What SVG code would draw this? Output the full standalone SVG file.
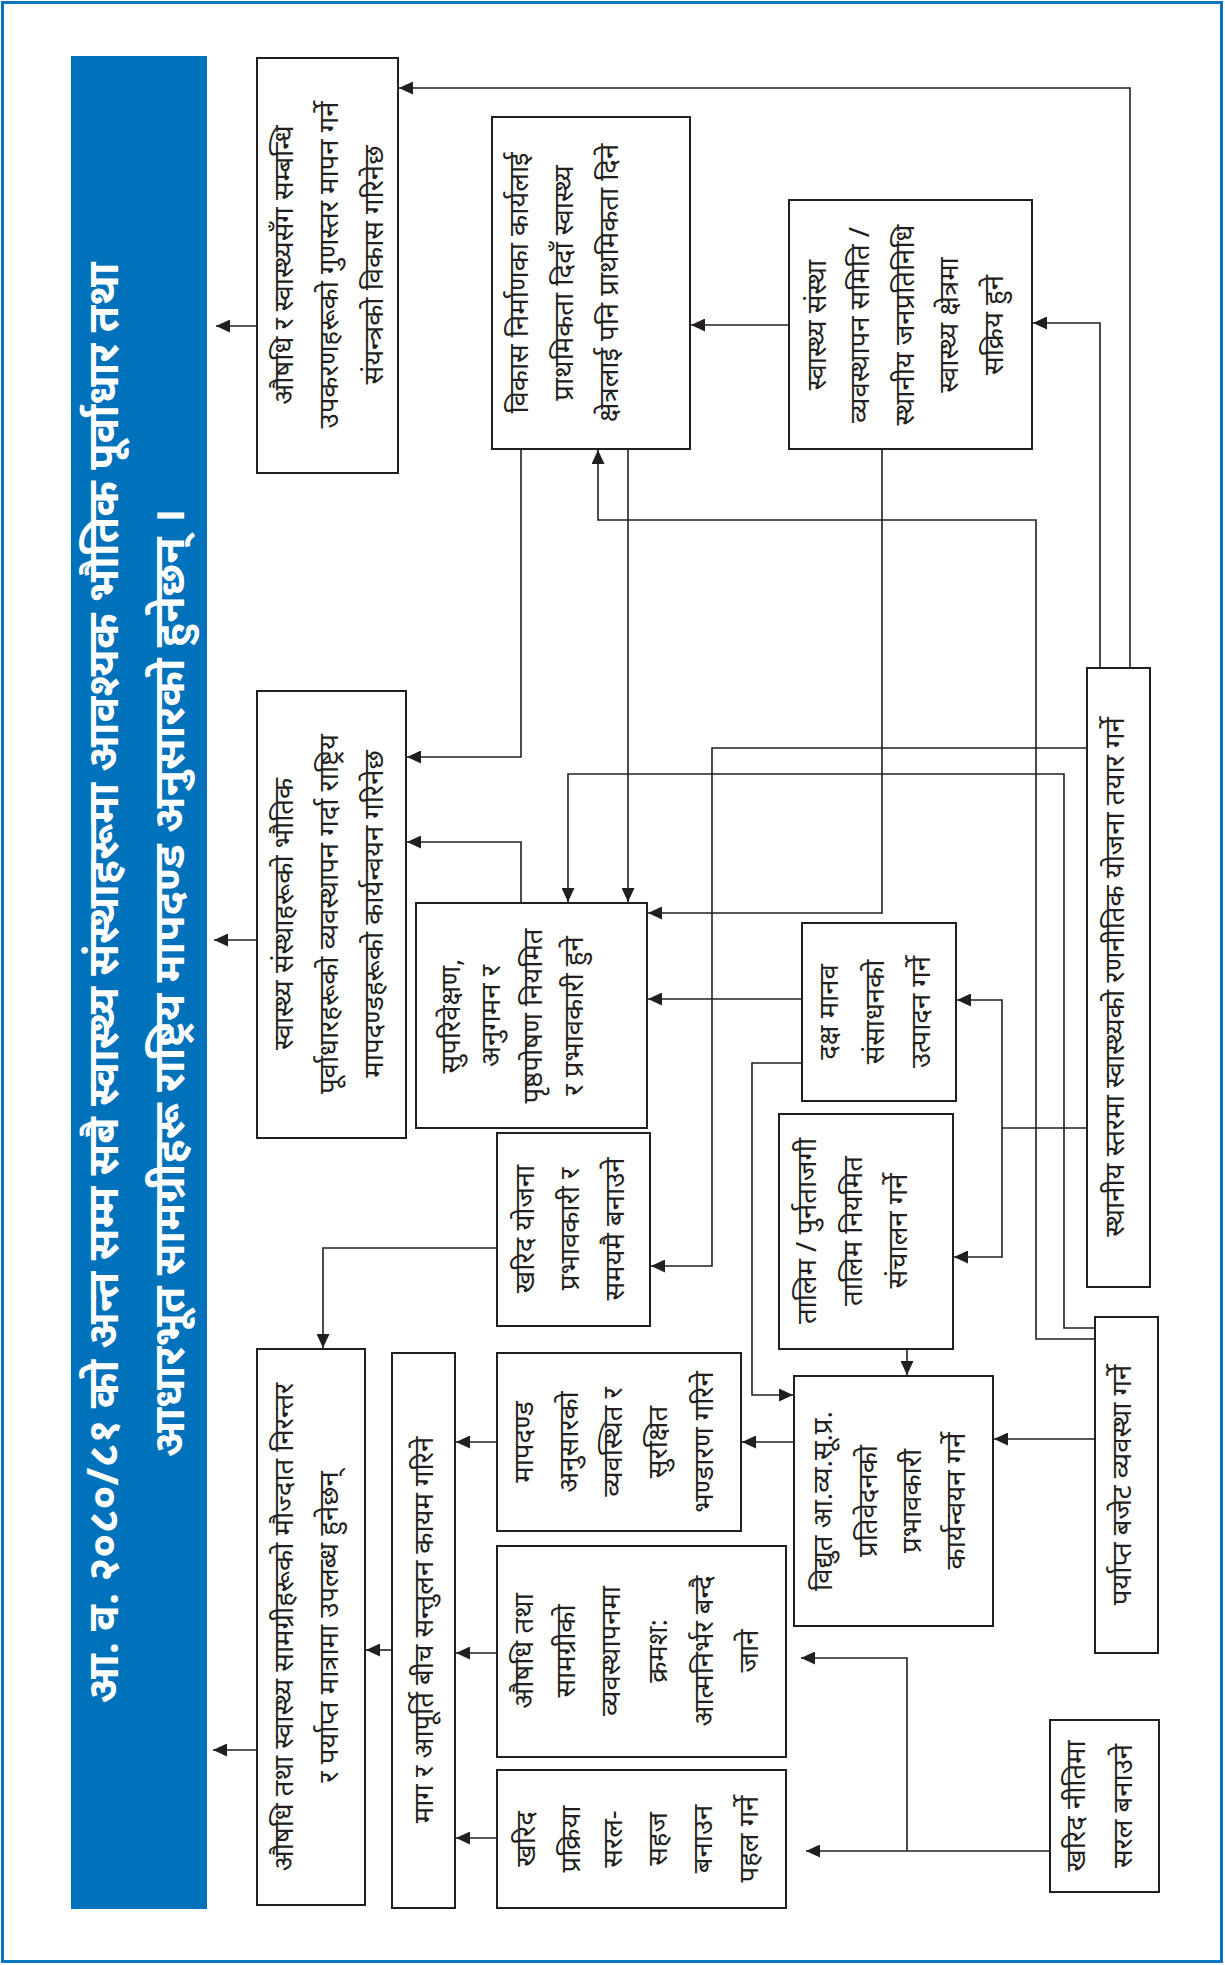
<svg xmlns="http://www.w3.org/2000/svg" width="1225" height="1965" viewBox="0 0 1225 1965">
  <style>
    .frame { fill: none; stroke: #0a74c0; stroke-width: 3; }
    .band { fill: #0072bc; }
    .box { fill: #ffffff; stroke: #231f20; stroke-width: 2; }
    .link { fill: none; stroke: #231f20; stroke-width: 1.6; }
    .t { font-family: "Noto Sans", sans-serif; font-size: 27.5px; fill: #231f20; text-anchor: middle; }
    .title { font-family: "Noto Sans", sans-serif; font-size: 43px; font-weight: bold; fill: #ffffff; text-anchor: middle; }
  </style>
  <defs>
    <marker id="arrow" viewBox="0 0 14 13" refX="14" refY="6.5" markerWidth="14" markerHeight="13" markerUnits="userSpaceOnUse" orient="auto">
      <path d="M0,0 L14,6.5 L0,13 z" fill="#231f20"/>
    </marker>
  </defs>

  <rect class="frame" x="2.5" y="2.5" width="1219" height="1959"/>

  <!-- title band, text runs bottom to top -->
  <g id="title">
    <rect class="band" x="71" y="56" width="136" height="1853"/>
    <g transform="translate(0 983) rotate(-90)">
      <text class="title" x="0" y="118">आ. व. २०८०/८१ को अन्त सम्म सबै स्वास्थ्य संस्थाहरूमा आवश्यक भौतिक पूर्वाधार तथा</text>
      <text class="title" x="0" y="184">आधारभूत सामग्रीहरू राष्ट्रिय मापदण्ड अनुसारको हुनेछन् ।</text>
    </g>
  </g>

  <!-- connectors -->
  <g id="connectors">
    <path class="link" marker-end="url(#arrow)" d="M257,326 H216"/>
    <path class="link" marker-end="url(#arrow)" d="M257,940 H214"/>
    <path class="link" marker-end="url(#arrow)" d="M257,1750 H213"/>
    <path class="link" marker-end="url(#arrow)" d="M1130,668 V88 H399"/>
    <path class="link" marker-end="url(#arrow)" d="M1100,668 V323 H1033"/>
    <path class="link" marker-end="url(#arrow)" d="M789,325 H691"/>
    <path class="link" marker-end="url(#arrow)" d="M521,449 V757 H407"/>
    <path class="link" marker-end="url(#arrow)" d="M1095,1339 H1036 V520 H598 V450"/>
    <path class="link" marker-end="url(#arrow)" d="M628,449 V902"/>
    <path class="link" marker-end="url(#arrow)" d="M882,449 V913 H648"/>
    <path class="link" marker-end="url(#arrow)" d="M1095,1328 H1064 V774 H568 V902"/>
    <path class="link" marker-end="url(#arrow)" d="M1087,748 H712 V1266 H651"/>
    <path class="link" marker-end="url(#arrow)" d="M521,903 V842 H407"/>
    <path class="link" marker-end="url(#arrow)" d="M802,999 H648"/>
    <path class="link" d="M1087,1128 H1002"/>
    <path class="link" marker-end="url(#arrow)" d="M1002,1128 V1000 H957"/>
    <path class="link" marker-end="url(#arrow)" d="M1002,1128 V1257 H954"/>
    <path class="link" marker-end="url(#arrow)" d="M802,1063 H752 V1395 H793"/>
    <path class="link" marker-end="url(#arrow)" d="M907,1349 V1375"/>
    <path class="link" marker-end="url(#arrow)" d="M1095,1439 H994"/>
    <path class="link" marker-end="url(#arrow)" d="M794,1442 H742"/>
    <path class="link" marker-end="url(#arrow)" d="M497,1442 H456"/>
    <path class="link" marker-end="url(#arrow)" d="M497,1248 H323 V1348"/>
    <path class="link" marker-end="url(#arrow)" d="M392,1650 H366"/>
    <path class="link" marker-end="url(#arrow)" d="M497,1653 H456"/>
    <path class="link" marker-end="url(#arrow)" d="M497,1838 H456"/>
    <path class="link" marker-end="url(#arrow)" d="M1050,1851 H806"/>
    <path class="link" marker-end="url(#arrow)" d="M907,1851 V1658 H801"/>
  </g>

  <!-- nodes -->
  <g id="equipment-standards">
    <rect class="box" x="257" y="58" width="141" height="415"/>
    <g transform="translate(0 265) rotate(-90)">
      <text class="t" x="0" y="293">औषधि र स्वास्थ्यसँग सम्बन्धि</text>
      <text class="t" x="0" y="338">उपकरणहरूको गुणस्तर मापन गर्ने</text>
      <text class="t" x="0" y="383">संयन्त्रको विकास गरिनेछ</text>
    </g>
  </g>

  <g id="development-priority">
    <rect class="box" x="492" y="117" width="198" height="332"/>
    <g transform="translate(0 283) rotate(-90)">
      <text class="t" x="0" y="528">विकास निर्माणका कार्यलाई</text>
      <text class="t" x="0" y="573">प्राथमिकता दिदाँ स्वास्थ्य</text>
      <text class="t" x="0" y="618">क्षेत्रलाई पनि प्राथमिकता दिने</text>
    </g>
  </g>

  <g id="committee-active">
    <rect class="box" x="789" y="200" width="243" height="249"/>
    <g transform="translate(0 325) rotate(-90)">
      <text class="t" x="0" y="826">स्वास्थ्य संस्था</text>
      <text class="t" x="0" y="869">व्यवस्थापन समिति /</text>
      <text class="t" x="0" y="914">स्थानीय जनप्रतिनिधि</text>
      <text class="t" x="0" y="958">स्वास्थ्य क्षेत्रमा</text>
      <text class="t" x="0" y="1003">सक्रिय हुने</text>
    </g>
  </g>

  <g id="infrastructure-standards">
    <rect class="box" x="257" y="691" width="149" height="447"/>
    <g transform="translate(0 914) rotate(-90)">
      <text class="t" x="0" y="293">स्वास्थ्य संस्थाहरूको भौतिक</text>
      <text class="t" x="0" y="338">पूर्वाधारहरूको व्यवस्थापन गर्दा राष्ट्रिय</text>
      <text class="t" x="0" y="383">मापदण्डहरूको कार्यन्वयन गरिनेछ</text>
    </g>
  </g>

  <g id="supervision">
    <rect class="box" x="416" y="903" width="231" height="225"/>
    <g transform="translate(0 1016) rotate(-90)">
      <text class="t" x="0" y="460">सुपरिवेक्षण,</text>
      <text class="t" x="0" y="500">अनुगमन र</text>
      <text class="t" x="0" y="542">पृष्ठपोषण नियमित</text>
      <text class="t" x="0" y="583">र प्रभावकारी हुने</text>
    </g>
  </g>

  <g id="human-resources">
    <rect class="box" x="802" y="923" width="154" height="178"/>
    <g transform="translate(0 1012) rotate(-90)">
      <text class="t" x="0" y="838">दक्ष मानव</text>
      <text class="t" x="0" y="884">संसाधनको</text>
      <text class="t" x="0" y="930">उत्पादन गर्ने</text>
    </g>
  </g>

  <g id="strategic-plan">
    <rect class="box" x="1087" y="668" width="63" height="619"/>
    <g transform="translate(0 977) rotate(-90)">
      <text class="t" x="0" y="1124">स्थानीय स्तरमा स्वास्थ्यको रणनीतिक योजना तयार गर्ने</text>
    </g>
  </g>

  <g id="procurement-plan">
    <rect class="box" x="497" y="1133" width="153" height="193"/>
    <g transform="translate(0 1229) rotate(-90)">
      <text class="t" x="0" y="534">खरिद योजना</text>
      <text class="t" x="0" y="579">प्रभावकारी र</text>
      <text class="t" x="0" y="624">समयमै बनाउने</text>
    </g>
  </g>

  <g id="training">
    <rect class="box" x="779" y="1114" width="174" height="235"/>
    <g transform="translate(0 1231) rotate(-90)">
      <text class="t" x="0" y="816">तालिम / पुर्नताजगी</text>
      <text class="t" x="0" y="862">तालिम नियमित</text>
      <text class="t" x="0" y="907">संचालन गर्ने</text>
    </g>
  </g>

  <g id="budget">
    <rect class="box" x="1095" y="1317" width="63" height="336"/>
    <g transform="translate(0 1485) rotate(-90)">
      <text class="t" x="0" y="1131">पर्याप्त बजेट व्यवस्था गर्ने</text>
    </g>
  </g>

  <g id="lmis-report">
    <rect class="box" x="794" y="1376" width="199" height="250"/>
    <g transform="translate(0 1501) rotate(-90)">
      <text class="t" x="0" y="832">विद्युत आ.व्य.सू.प्र.</text>
      <text class="t" x="0" y="877">प्रतिवेदनको</text>
      <text class="t" x="0" y="921">प्रभावकारी</text>
      <text class="t" x="0" y="965">कार्यन्वयन गर्ने</text>
    </g>
  </g>

  <g id="storage">
    <rect class="box" x="497" y="1353" width="244" height="178"/>
    <g transform="translate(0 1442) rotate(-90)">
      <text class="t" x="0" y="533">मापदण्ड</text>
      <text class="t" x="0" y="578">अनुसारको</text>
      <text class="t" x="0" y="622">व्यवस्थित र</text>
      <text class="t" x="0" y="667">सुरक्षित</text>
      <text class="t" x="0" y="713">भण्डारण गरिने</text>
    </g>
  </g>

  <g id="supply-stock">
    <rect class="box" x="257" y="1349" width="108" height="556"/>
    <g transform="translate(0 1627) rotate(-90)">
      <text class="t" x="0" y="293">औषधि तथा स्वास्थ्य सामग्रीहरूको मौज्दात निरन्तर</text>
      <text class="t" x="0" y="338">र पर्याप्त मात्रामा उपलब्ध हुनेछन्</text>
    </g>
  </g>

  <g id="demand-supply">
    <rect class="box" x="392" y="1353" width="63" height="555"/>
    <g transform="translate(0 1630) rotate(-90)">
      <text class="t" x="0" y="433">माग र आपूर्ति बीच सन्तुलन कायम गरिने</text>
    </g>
  </g>

  <g id="self-reliance">
    <rect class="box" x="497" y="1546" width="289" height="211"/>
    <g transform="translate(0 1651) rotate(-90)">
      <text class="t" x="0" y="533">औषधि तथा</text>
      <text class="t" x="0" y="575">सामग्रीको</text>
      <text class="t" x="0" y="620">व्यवस्थापनमा</text>
      <text class="t" x="0" y="667">क्रमश:</text>
      <text class="t" x="0" y="713">आत्मनिर्भर बन्दै</text>
      <text class="t" x="0" y="758">जाने</text>
    </g>
  </g>

  <g id="simplify-process">
    <rect class="box" x="497" y="1770" width="289" height="138"/>
    <g transform="translate(0 1839) rotate(-90)">
      <text class="t" x="0" y="535">खरिद</text>
      <text class="t" x="0" y="580">प्रक्रिया</text>
      <text class="t" x="0" y="622">सरल-</text>
      <text class="t" x="0" y="667">सहज</text>
      <text class="t" x="0" y="712">बनाउन</text>
      <text class="t" x="0" y="758">पहल गर्ने</text>
    </g>
  </g>

  <g id="procurement-policy">
    <rect class="box" x="1050" y="1720" width="109" height="172"/>
    <g transform="translate(0 1806) rotate(-90)">
      <text class="t" x="0" y="1085">खरिद नीतिमा</text>
      <text class="t" x="0" y="1132">सरल बनाउने</text>
    </g>
  </g>
</svg>
